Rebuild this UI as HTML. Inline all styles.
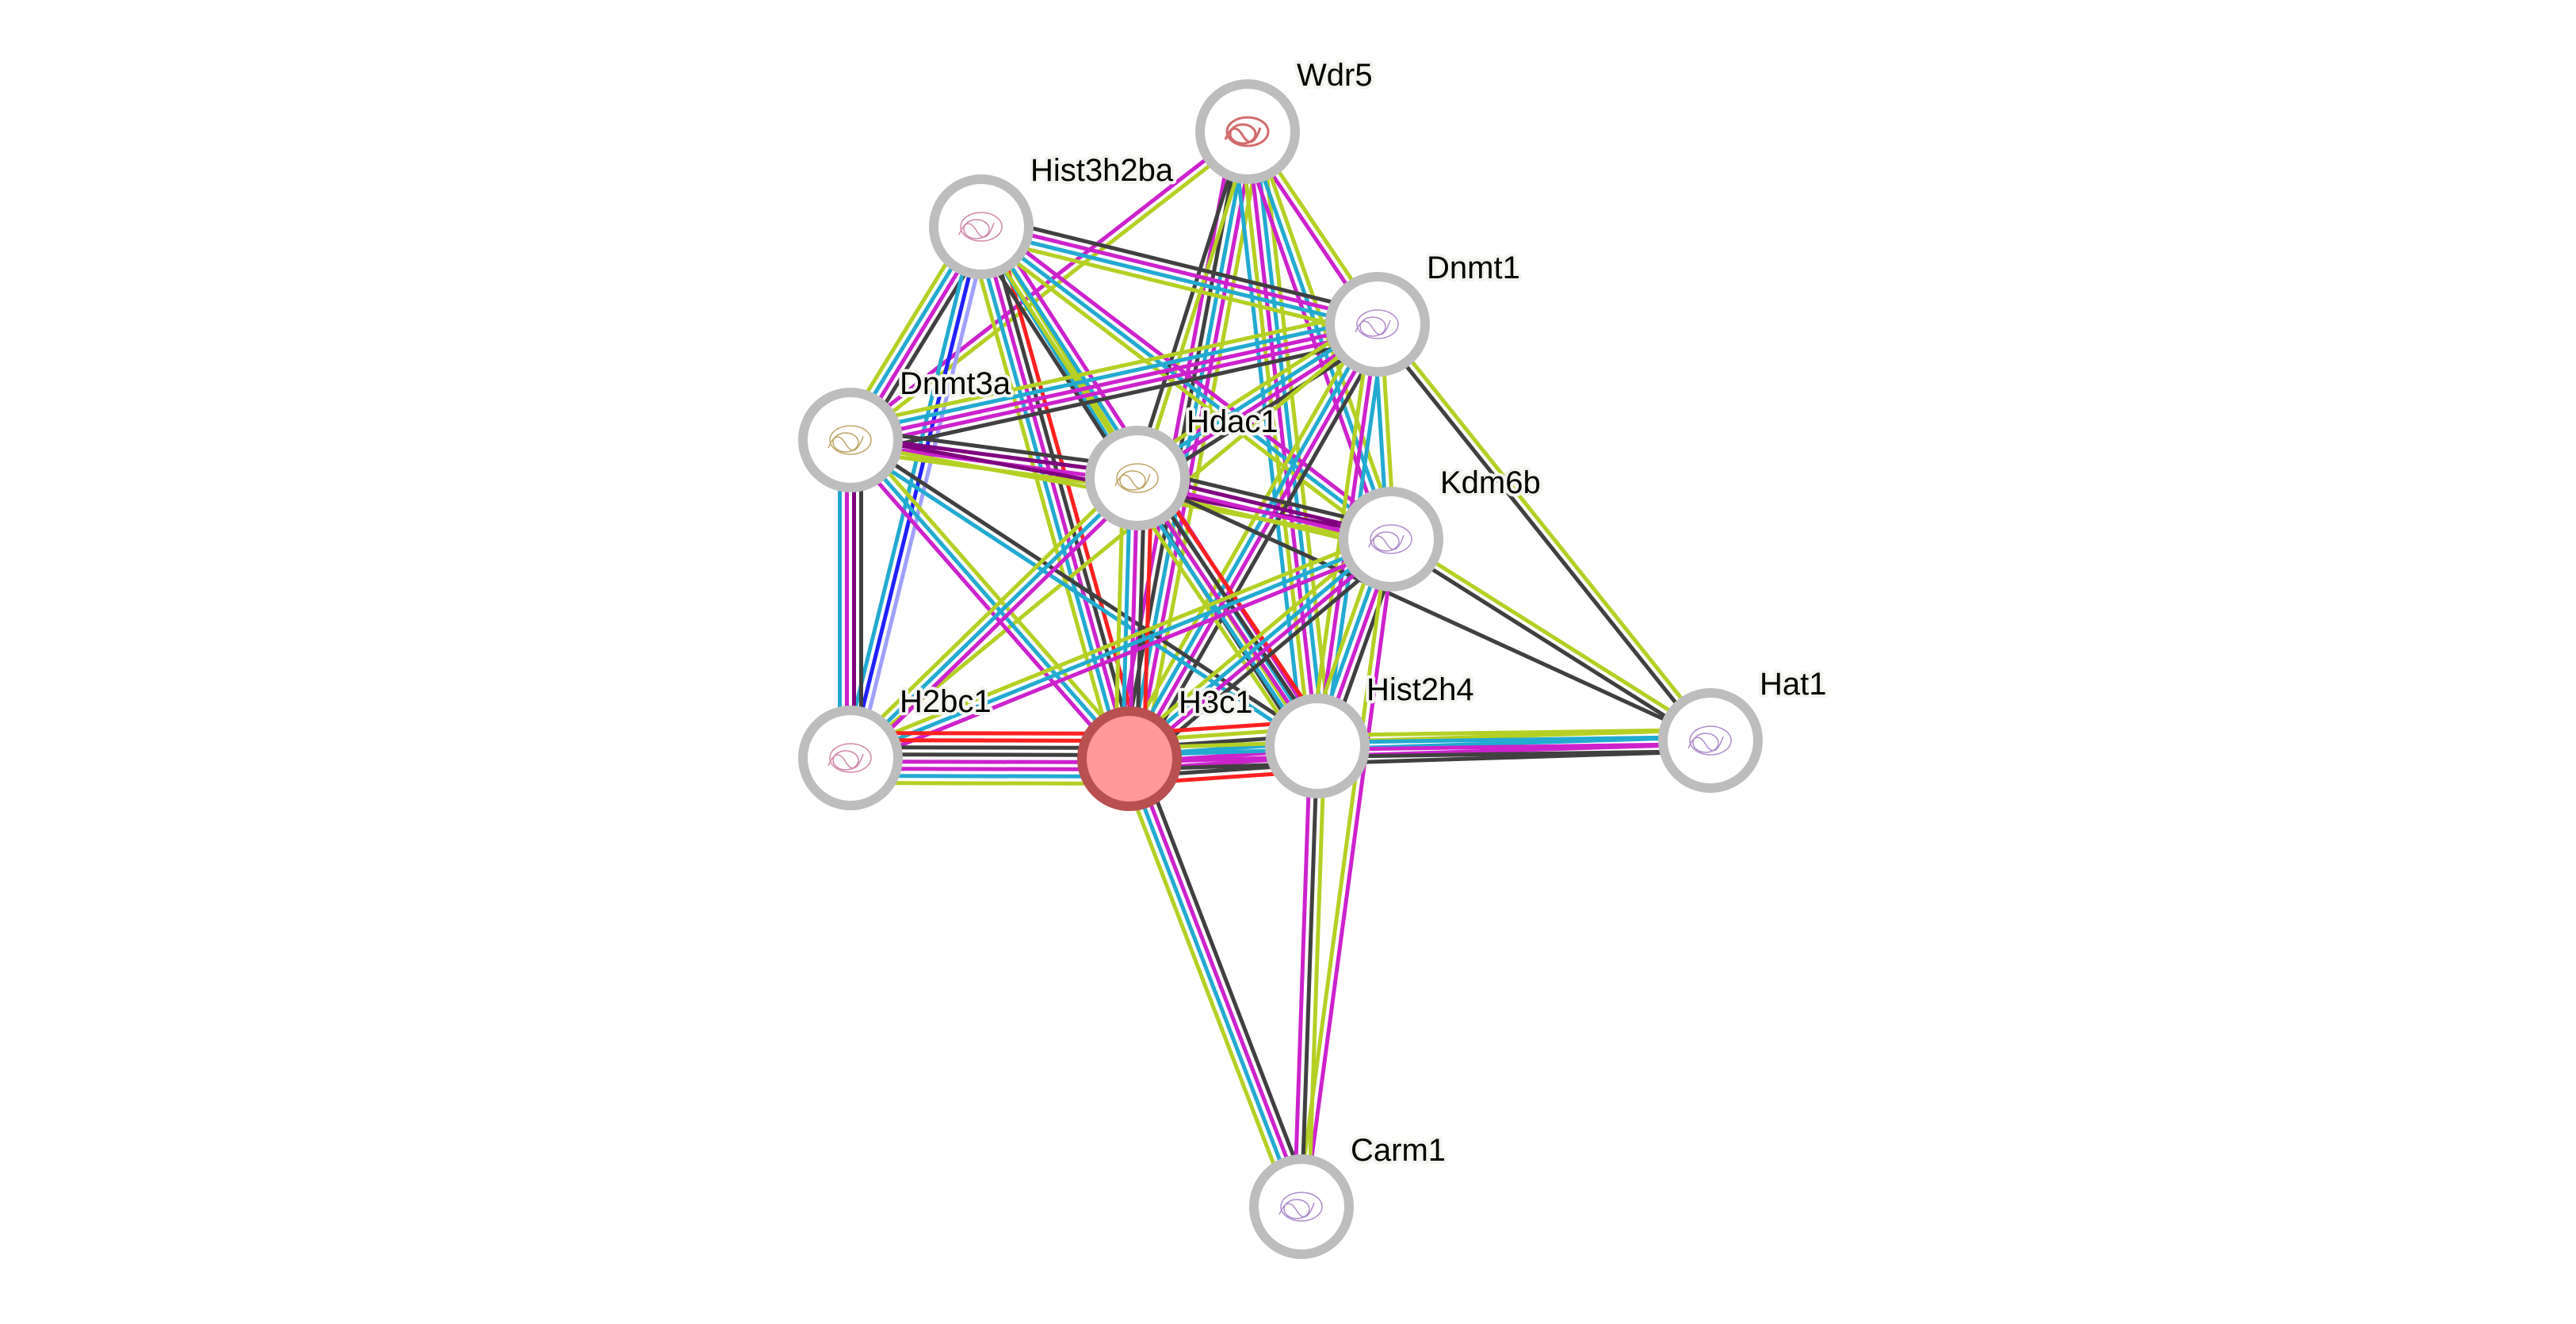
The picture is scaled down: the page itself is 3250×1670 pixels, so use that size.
<!DOCTYPE html>
<html><head><meta charset="utf-8">
<style>
html,body{margin:0;padding:0;background:#fff;}
svg{display:block;}
text{font-family:"Liberation Sans",sans-serif;font-size:40px;fill:#000;paint-order:stroke;stroke:#f4f4f0;stroke-width:8px;stroke-linejoin:round;}
</style></head>
<body>
<svg id="s" width="3250" height="1670" viewBox="0 0 3250 1670" xmlns="http://www.w3.org/2000/svg">
<g id="edges"></g><g id="nodes"></g>
</svg>
<script>
var N={
Wdr5:[1574,166],Hist3h2ba:[1238,286],Dnmt1:[1738,409],Dnmt3a:[1073,555],Hdac1:[1435,603],
Kdm6b:[1755,680],Hat1:[2158,934],H2bc1:[1073,956],H3c1:[1425,957],Hist2h4:[1662,941],Carm1:[1642,1522]};
var C={y:'#b5cf24',k:'#404040',m:'#cc22cc',c:'#22aad0',r:'#ff2020',b:'#2020ff',l:'#a0a0ff',p:'#800080'};
var E=[
['Wdr5','Dnmt3a','ym'],['Wdr5','Dnmt1','ym'],['Wdr5','H3c1','ymckm'],['Wdr5','Hdac1','yk'],
['Wdr5','Hist2h4','ycmyc'],['Wdr5','Kdm6b','ycm'],
['Hist3h2ba','Dnmt1','kmcy'],['Hist3h2ba','Dnmt3a','kmcy'],['Hist3h2ba','H2bc1','lbc'],
['Hist3h2ba','H3c1','rkmcy'],['Hist3h2ba','Hdac1','yc'],['Hist3h2ba','Hist2h4','mcyk'],['Hist3h2ba','Kdm6b','mcy'],
['Dnmt1','Dnmt3a','kmmcy'],['Dnmt1','Hdac1','kmcy'],['Dnmt1','H3c1','kmcy'],['Dnmt1','Hist2h4','cmy'],
['Dnmt1','Kdm6b','yc'],['Dnmt1','Hat1','yk'],['Dnmt1','H2bc1','y'],
['Dnmt3a','Hdac1','kpmy'],['Dnmt3a','Kdm6b','py'],['Dnmt3a','H2bc1','kpmc'],['Dnmt3a','H3c1','ycm'],['Dnmt3a','Hist2h4','kc'],
['Hdac1','Kdm6b','kpmy'],['Hdac1','H3c1','rkmcy'],['Hdac1','Hist2h4','rkmcy'],['Hdac1','H2bc1','mcy'],['Hdac1','Hat1','k'],
['Kdm6b','H3c1','kmcy'],['Kdm6b','Hist2h4','kmcy'],['Kdm6b','H2bc1','mcy'],['Kdm6b','Hat1','yk'],['Kdm6b','Carm1','my'],
['H2bc1','H3c1','rrkkmmcy'],['H3c1','Hist2h4','rykcmmkr'],
['H3c1','Hat1','ycmk'],['Hist2h4','Hat1','ycmk'],
['H3c1','Carm1','kmcy'],['Hist2h4','Carm1','ykm']
];
var g=document.getElementById('edges'),h='';
E.forEach(function(e){var a=N[e[0]],b=N[e[1]],dx=b[0]-a[0],dy=b[1]-a[1],L=Math.hypot(dx,dy),px=-dy/L,py=dx/L,n=e[2].length,sp=9;
for(var i=0;i<n;i++){var o=(i-(n-1)/2)*sp;
h+='<line x1="'+(a[0]+px*o)+'" y1="'+(a[1]+py*o)+'" x2="'+(b[0]+px*o)+'" y2="'+(b[1]+py*o)+'" stroke="'+C[e[2][i]]+'" stroke-width="5"/>';}});
g.innerHTML=h;
var ic={Wdr5:'#c84848',Hist3h2ba:'#c86a94',Dnmt1:'#a070c0',Dnmt3a:'#b09040',Hdac1:'#b09040',Kdm6b:'#9a70c0',Hat1:'#9a70c0',H2bc1:'#c86a94',Carm1:'#9a70c0'};
var s='';
for(var k in N){var p=N[k];
if(k=='H3c1'){s+='<circle cx="'+p[0]+'" cy="'+p[1]+'" r="60" fill="#ff9999" stroke="#b85050" stroke-width="12"/>';}
else{s+='<circle cx="'+p[0]+'" cy="'+p[1]+'" r="60" fill="#fff" stroke="#bdbdbd" stroke-width="12"/>';
if(ic[k]){var w=(k=='Wdr5')?3:1.5;s+='<g fill="none" stroke="'+ic[k]+'" stroke-width="'+w+'" opacity="0.8"><ellipse cx="'+p[0]+'" cy="'+p[1]+'" rx="26" ry="18"/><ellipse cx="'+(p[0]-6)+'" cy="'+(p[1]+3)+'" rx="16" ry="12"/><path d="M'+(p[0]-28)+' '+(p[1]+10)+' q10 -25 22 -5 t22 -10"/></g>';}}
s+='<text x="'+(p[0]+62)+'" y="'+(p[1]-58)+'">'+k+'</text>';}
document.getElementById('nodes').innerHTML=s;
</script>
</body></html>
